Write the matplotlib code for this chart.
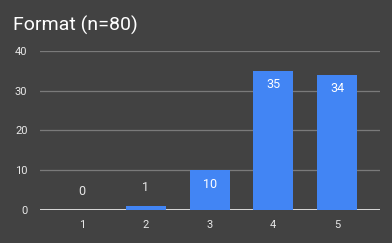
import matplotlib.pyplot as plt

# datos del grafico
categorias = [1, 2, 3, 4, 5]
valores = [0, 1, 10, 35, 34]
titulo = 'Format (n=80)'

fondo = '#424242'
azul = '#4285F4'

plt.rcParams['font.family'] = ['Roboto', 'DejaVu Sans']

fig = plt.figure(figsize=(3.92, 2.43), dpi=100, facecolor=fondo)
ax = fig.add_axes([0.102, 0.136, 0.867, 0.654], facecolor=fondo)

ax.bar(categorias, valores, width=0.63, color=azul, zorder=3)

# etiquetas de valor, arriba si la barra es chica, adentro si es grande
for x, v in zip(categorias, valores):
    if v < 5:
        ax.annotate(str(v), (x, v), xytext=(0, 13), textcoords='offset points',
                    ha='center', va='center', color='#e8e8e8', fontsize=9)
    else:
        ax.annotate(str(v), (x, v), xytext=(0, -10), textcoords='offset points',
                    ha='center', va='center', color='white', fontsize=9, zorder=4)

ax.set_xlim(0.34, 5.67)
ax.set_ylim(0, 40)
ax.set_yticks([0, 10, 20, 30, 40])
ax.set_xticks(categorias)
ax.grid(axis='y', color='#7a7a7a', linewidth=0.9, zorder=0)
ax.axhline(0, color='#f0f0f0', linewidth=1.2, zorder=2)
for s in ax.spines.values():
    s.set_visible(False)
ax.tick_params(length=0, colors='#e8e8e8', labelsize=8)
ax.tick_params(axis='y', pad=9)
ax.tick_params(axis='x', pad=7)

fig.text(0.033, 0.895, titulo, color='white', fontsize=14, ha='left', va='center')

plt.savefig('out.png', dpi=100, facecolor=fondo)
